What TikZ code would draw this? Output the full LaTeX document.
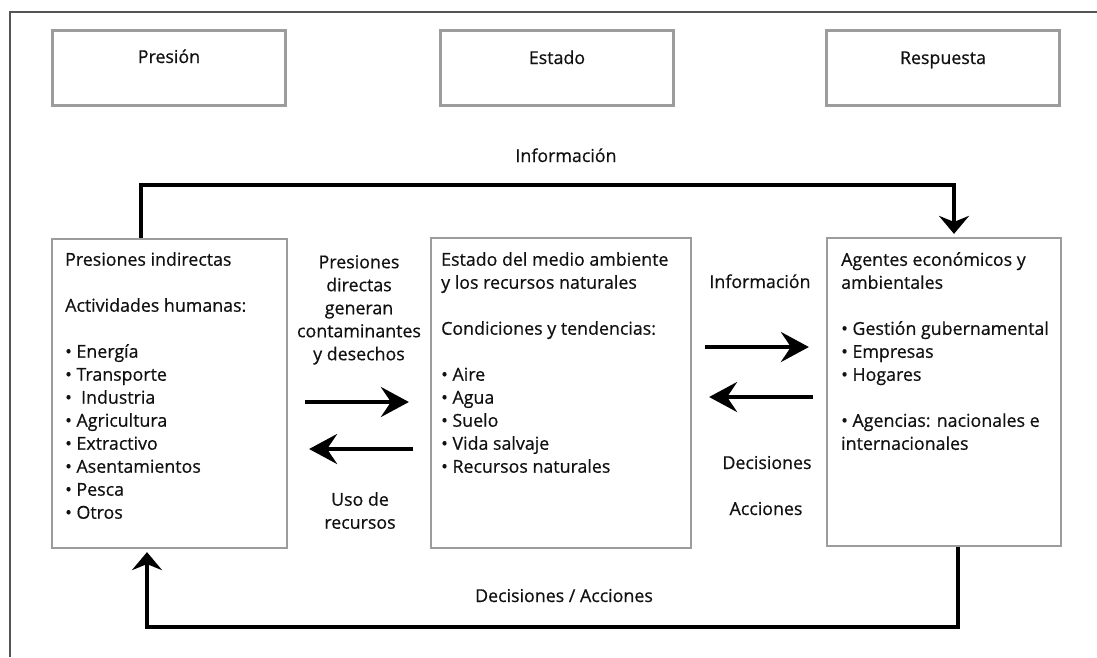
\documentclass[tikz,border=0pt]{standalone}
\usepackage{fontspec}
\setmainfont{Open Sans}[FakeBold=0.6]
\usetikzlibrary{arrows.meta}
\definecolor{boxgray}{HTML}{9C9C9C}
\definecolor{framegray}{HTML}{555555}
\definecolor{txt}{HTML}{111111}
\begin{document}
\begin{tikzpicture}[x=1pt,y=-1pt,
  every node/.style={text=txt, font=\fontsize{17.8}{23}\selectfont, inner sep=0pt},
  topbox/.style={draw=boxgray, line width=2.2pt, minimum width=233pt, minimum height=75pt},
  bigbox/.style={draw=boxgray, line width=2.2pt},
  flow/.style={line width=3.2pt, -{Stealth[length=18pt,width=30pt,inset=6pt]}},
  midarrow/.style={line width=4pt, -{Stealth[length=28pt,width=30pt,inset=10pt]}},
  boxtext/.style={anchor=north west, align=left},
]
\useasboundingbox (0,0) rectangle (1097,657);
\draw[framegray, line width=2pt] (10,657) -- (10,12) -- (1097,12);

% top boxes
\node[topbox] (tp) at (169,68) {};
\node[topbox] (te) at (557,68) {};
\node[topbox] (tr) at (943,68) {};
\node[anchor=base] (tpl) at (169,63) {Presión};
\node[anchor=base] (tel) at (557,64) {Estado};
\node[anchor=base] (trl) at (943,64) {Respuesta};

% main boxes
\node[bigbox, minimum width=235pt, minimum height=309pt] (L) at (169.5,393.5) {};
\node[bigbox, minimum width=260pt, minimum height=310pt] (M) at (561,393) {};
\node[bigbox, minimum width=234pt, minimum height=308pt] (R) at (944,392) {};

\node[boxtext] (Lt) at (65,252) {Presiones indirectas\\[23pt]
Actividades humanas:\\[23pt]
• Energía\\
• Transporte\\
•\ \ Industria\\
• Agricultura\\
• Extractivo\\
• Asentamientos\\
• Pesca\\
• Otros};

\node[boxtext] (Mt) at (441,252) {Estado del medio ambiente\\
y los recursos naturales\\[23pt]
Condiciones y tendencias:\\[23pt]
• Aire\\
• Agua\\
• Suelo\\
• Vida salvaje\\
• Recursos naturales};

\node[boxtext] (Rt) at (841,252) {Agentes económicos y\\
ambientales\\[23pt]
• Gestión gubernamental\\
• Empresas\\
• Hogares\\[23pt]
• Agencias: nacionales e\\
internacionales};

% labels
\node[anchor=base] (inf1) at (566,162) {Información};
\node[anchor=base] (da) at (564,602) {Decisiones / Acciones};
\node[align=center, anchor=north] (pd) at (359,255) {Presiones\\directas\\generan\\contaminantes\\y desechos};
\node[align=center, anchor=north] (uso) at (360,492) {Uso de\\recursos};
\node[anchor=base] (inf2) at (760,288) {Información};
\node[anchor=base] (dec) at (767,469) {Decisiones};
\node[anchor=base] (acc) at (766,515) {Acciones};

% feedback connectors
\coordinate (topy) at (0,185);
\coordinate (boty) at (0,627);
\coordinate (A) at ([xshift=-28.5pt]L.north);
\coordinate (C) at ([xshift=10pt]R.north);
\coordinate (D) at ([xshift=14pt]R.south);
\coordinate (F) at ([xshift=-22.5pt]L.south);
\draw[flow, shorten >=3pt] (A) -- (A |- topy) -| (C);
\draw[flow, shorten >=3pt] (D) -- (D |- boty) -| (F);

% middle arrows
\coordinate (y1) at (0,402);
\coordinate (y2) at (0,449);
\coordinate (y3) at (0,347);
\coordinate (y4) at (0,397);
\draw[midarrow, shorten <=17pt, shorten >=21pt] (L.east |- y1) -- (M.west |- y1);
\draw[midarrow, shorten <=17pt, shorten >=21pt] (M.west |- y2) -- (L.east |- y2);
\draw[midarrow, shorten <=13pt, shorten >=17pt] (M.east |- y3) -- (R.west |- y3);
\draw[midarrow, shorten <=13pt, shorten >=17pt] (R.west |- y4) -- (M.east |- y4);
\end{tikzpicture}
\end{document}
